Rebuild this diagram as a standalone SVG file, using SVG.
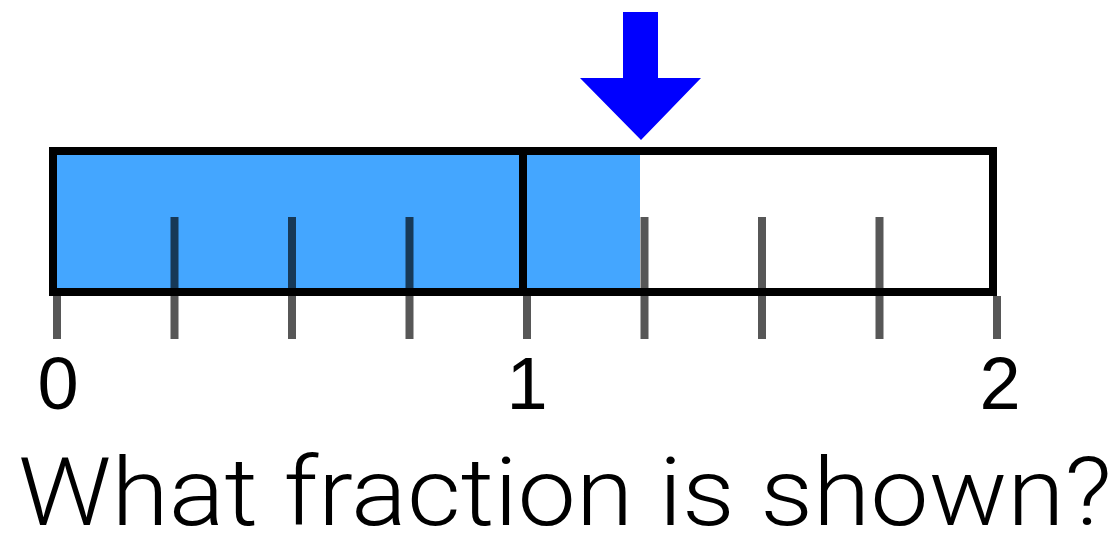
<svg xmlns="http://www.w3.org/2000/svg" width="1120" height="534" viewBox="0 0 1120 534">
  <style>
    .tick { stroke: #000; stroke-opacity: 0.66; stroke-width: 8; }
    .frame { fill: none; stroke: #000; stroke-width: 8; }
    .num { font-family: "Liberation Sans", Arial, sans-serif; font-size: 74px; fill: #000; text-anchor: middle; }
    .q { font-family: Roboto, "Open Sans", sans-serif; font-weight: 300; font-size: 94px; fill: #000; }
  </style>
  <rect width="1120" height="534" fill="#fff"/>
  <g id="fill">
    <rect x="53" y="151" width="587" height="141" fill="#44a6ff"/>
  </g>
  <g id="ticks">
    <line class="tick" x1="57" y1="296" x2="57" y2="339"/>
    <line class="tick" x1="174.5" y1="217" x2="174.5" y2="339"/>
    <line class="tick" x1="292" y1="217" x2="292" y2="339"/>
    <line class="tick" x1="409.5" y1="217" x2="409.5" y2="339"/>
    <line class="tick" x1="527" y1="296" x2="527" y2="339"/>
    <line class="tick" x1="644.5" y1="217" x2="644.5" y2="339"/>
    <line class="tick" x1="762" y1="217" x2="762" y2="339"/>
    <line class="tick" x1="879.5" y1="217" x2="879.5" y2="339"/>
    <line class="tick" x1="997" y1="296" x2="997" y2="339"/>
  </g>
  <g id="bar">
    <rect class="frame" x="53" y="151" width="940" height="141"/>
    <line x1="523" y1="151" x2="523" y2="292" stroke="#000" stroke-width="8"/>
  </g>
  <g id="arrow">
    <polygon points="623,12 658,12 658,78 701,78 641,140 580,78 623,78" fill="#0000ff"/>
  </g>
  <g id="labels">
    <text class="num" x="58" y="409">0</text>
    <text class="num" x="527" y="409">1</text>
    <text class="num" x="1000" y="409">2</text>
  </g>
  <g id="question">
    <text class="q" x="18" y="525" textLength="1094" lengthAdjust="spacingAndGlyphs">What fraction is shown?</text>
  </g>
</svg>
